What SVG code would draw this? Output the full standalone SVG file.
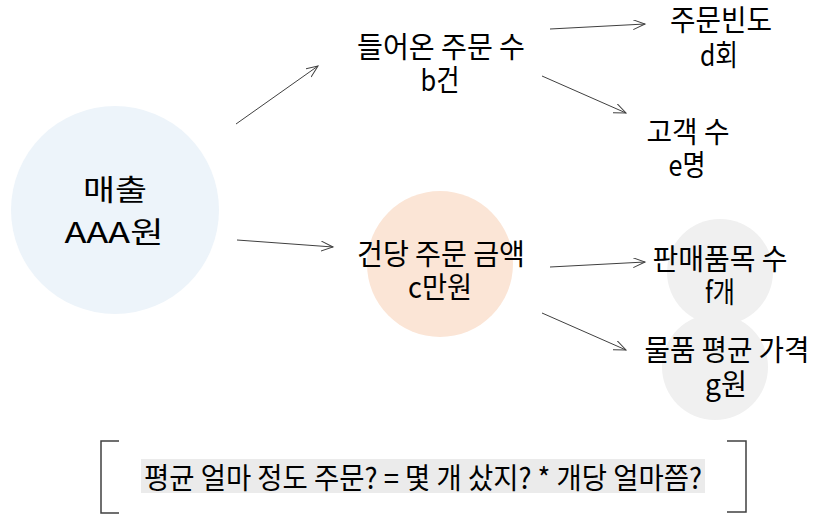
<svg xmlns="http://www.w3.org/2000/svg" width="819" height="528" viewBox="0 0 819 528">
<style>
text{font-family:"Noto Sans CJK KR","Noto Sans",sans-serif;font-size:29px;fill:#000;text-anchor:middle}
.c{stroke:#404040;stroke-width:1;fill:none}
.br{stroke:#404040;stroke-width:1.5;fill:none}
</style>
<defs>
<marker id="ah" markerUnits="userSpaceOnUse" markerWidth="14" markerHeight="12" refX="12" refY="5" orient="auto">
<path d="M0,0 L12,5 L0,10" fill="none" stroke="#404040" stroke-width="1"/>
</marker>
</defs>
<rect width="819" height="528" fill="#fff"/>
<g id="sales">
<circle cx="115" cy="210" r="104" fill="#edf4fa"/>
<text x="115" y="201" textLength="64" lengthAdjust="spacingAndGlyphs">매출</text>
<text x="114" y="243" textLength="99" lengthAdjust="spacingAndGlyphs">AAA원</text>
</g>
<g id="orders">
<text x="441" y="58" textLength="168" lengthAdjust="spacingAndGlyphs">들어온 주문 수</text>
<text x="440" y="91" textLength="39" lengthAdjust="spacingAndGlyphs">b건</text>
</g>
<g id="amount">
<circle cx="440" cy="264" r="73" fill="#fbe5d6"/>
<text x="441" y="265" textLength="168" lengthAdjust="spacingAndGlyphs">건당 주문 금액</text>
<text x="440" y="298" textLength="64" lengthAdjust="spacingAndGlyphs">c만원</text>
</g>
<g id="freq">
<text x="721" y="31" textLength="102" lengthAdjust="spacingAndGlyphs">주문빈도</text>
<text x="719" y="66" textLength="38" lengthAdjust="spacingAndGlyphs">d회</text>
</g>
<g id="customers">
<text x="688" y="143" textLength="83" lengthAdjust="spacingAndGlyphs">고객 수</text>
<text x="687" y="176" textLength="37" lengthAdjust="spacingAndGlyphs">e명</text>
</g>
<g id="items">
<circle cx="720" cy="272" r="53" fill="#f0f0f0"/>
<text x="720" y="270" textLength="135" lengthAdjust="spacingAndGlyphs">판매품목 수</text>
<text x="720" y="303" textLength="30" lengthAdjust="spacingAndGlyphs">f개</text>
</g>
<g id="price">
<circle cx="715" cy="367" r="53" fill="#f0f0f0"/>
<text x="727" y="361" textLength="165" lengthAdjust="spacingAndGlyphs">물품 평균 가격</text>
<text x="726" y="395" textLength="42" lengthAdjust="spacingAndGlyphs">g원</text>
</g>
<g id="connectors">
<line class="c" x1="236" y1="124" x2="318" y2="66" marker-end="url(#ah)"/>
<line class="c" x1="237" y1="240" x2="333" y2="247" marker-end="url(#ah)"/>
<line class="c" x1="550" y1="29" x2="645" y2="24" marker-end="url(#ah)"/>
<line class="c" x1="542" y1="76" x2="626" y2="113" marker-end="url(#ah)"/>
<line class="c" x1="550" y1="267" x2="645" y2="262" marker-end="url(#ah)"/>
<line class="c" x1="542" y1="313" x2="626" y2="350" marker-end="url(#ah)"/>
</g>
<g id="note">
<path class="br" d="M119,441 H101 V513 H119"/>
<path class="br" d="M727,441 H746 V512 H727"/>
<rect x="141" y="459" width="564" height="34" fill="#ebebeb"/>
<text x="423" y="489" textLength="558" lengthAdjust="spacingAndGlyphs">평균 얼마 정도 주문? = 몇 개 샀지? * 개당 얼마쯤?</text>
</g>
</svg>
